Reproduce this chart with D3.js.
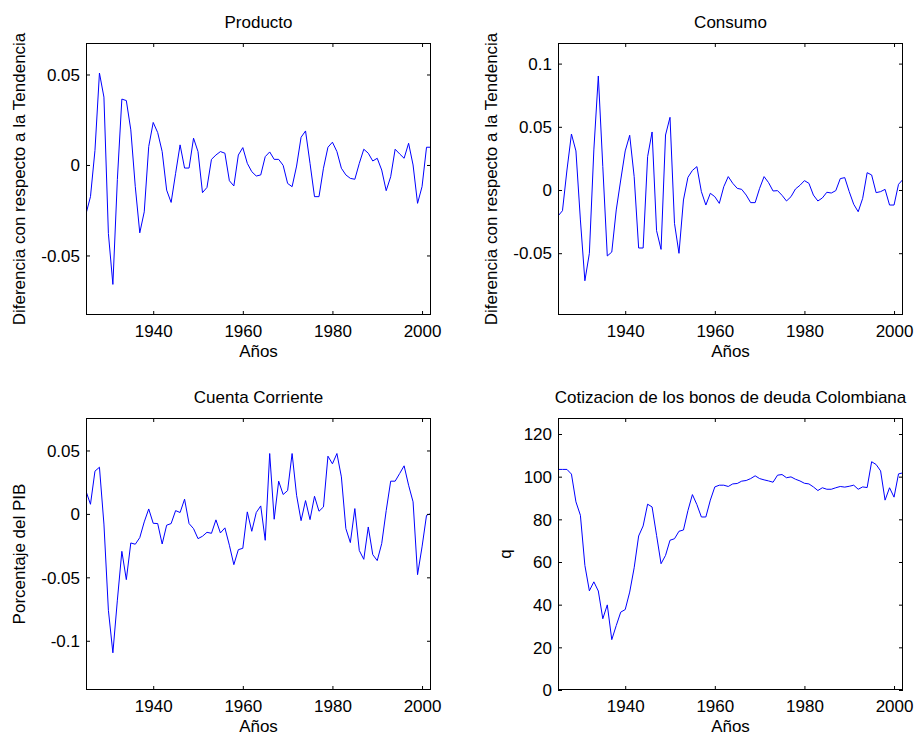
<!DOCTYPE html>
<html>
<head>
<meta charset="utf-8">
<script src="https://cdn.jsdelivr.net/npm/d3@7"></script>
<style>
  html, body { margin: 0; padding: 0; background: #fff; }
  svg { display: block; }
  text { font-family: "Liberation Sans", Arial, Helvetica, sans-serif; fill: #000; }
</style>
</head>
<body>
<svg id="chart" width="915" height="736"></svg>
<script>
// ---------------- DATA ----------------
const years = [1925,1926,1927,1928,1929,1930,1931,1932,1933,1934,1935,1936,1937,1938,1939,
  1940,1941,1942,1943,1944,1945,1946,1947,1948,1949,1950,1951,1952,1953,1954,1955,1956,1957,1958,1959,
  1960,1961,1962,1963,1964,1965,1966,1967,1968,1969,1970,1971,1972,1973,1974,1975,1976,1977,1978,1979,
  1980,1981,1982,1983,1984,1985,1986,1987,1988,1989,1990,1991,1992,1993,1994,1995,1996,1997,1998,1999,
  2000,2001,2002];

const producto = [-0.027,-0.0175,0.008,0.0508,0.0375,-0.0379,-0.066,-0.008,0.0364,0.0356,0.0194,-0.012,
  -0.0375,-0.0259,0.0102,0.0235,0.0179,0.0074,-0.0139,-0.0207,-0.0046,0.0111,-0.0017,-0.0017,0.0148,0.0074,
  -0.0153,-0.0124,0.0031,0.0055,0.0074,0.0065,-0.0087,-0.0116,0.0055,0.0096,0.0009,-0.0037,-0.0061,-0.0055,
  0.0046,0.0072,0.0031,0.0031,-0.0002,-0.0102,-0.012,-0.0006,0.0153,0.0188,0.0009,-0.0175,-0.0175,-0.0018,
  0.0098,0.0126,0.0074,-0.0018,-0.0055,-0.0074,-0.0079,0.0009,0.0087,0.0065,0.0022,0.0037,-0.0028,-0.0142,
  -0.0065,0.0087,0.0061,0.0037,0.012,0,-0.0212,-0.012,0.0098,0.0098];

const consumo = [-0.0206,-0.0164,0.0158,0.0443,0.0309,-0.0237,-0.0718,-0.0501,0.0317,0.0902,0.0185,-0.0522,
  -0.0491,-0.0158,0.0079,0.0309,0.0433,0.0106,-0.0459,-0.0459,0.0264,0.0459,-0.0322,-0.047,0.0435,0.0575,
  -0.0264,-0.0501,-0.0079,0.01,0.0155,0.0185,-0.0013,-0.0119,-0.0026,-0.0053,-0.0106,0.0026,0.0106,0.0053,
  0.0013,0.0005,-0.004,-0.01,-0.01,0.0013,0.0106,0.0058,-0.0008,-0.0005,-0.0042,-0.0087,-0.0053,0.0008,
  0.0037,0.0074,0.0053,-0.004,-0.0087,-0.0063,-0.0018,-0.0024,-0.0005,0.009,0.0098,-0.0013,-0.0113,-0.0172,
  -0.0066,0.0137,0.0119,-0.0021,-0.0013,0.0005,-0.0119,-0.0119,0.0045,0.0084];

const cuenta = [0.0179,0.0076,0.0337,0.0368,-0.008,-0.076,-0.1095,-0.068,-0.0295,-0.0518,-0.0229,-0.0239,
  -0.0187,-0.0063,0.0039,-0.0074,-0.0076,-0.0237,-0.0089,-0.0076,0.0026,0.0011,0.0116,-0.0076,-0.0116,-0.0195,
  -0.0176,-0.0145,-0.0153,-0.0047,-0.015,-0.011,-0.0247,-0.04,-0.0282,-0.0271,0.0016,-0.0137,0.0011,0.0063,
  -0.0208,0.0476,-0.0042,0.0258,0.0153,0.0184,0.0476,0.0147,-0.0053,0.0105,-0.0045,0.0139,0.0021,0.0055,
  0.0455,0.0395,0.0476,0.0292,-0.0116,-0.0226,0.0042,-0.0289,-0.0358,-0.0103,-0.0321,-0.0368,-0.0234,0.0026,
  0.0258,0.0258,0.0318,0.0379,0.0226,0.0095,-0.0479,-0.026,-0.0011,0.0003];

const cotizacion = [103.4,103.4,103.4,101.2,88.2,81.9,58.4,46.5,50.7,46.4,33.4,39.9,23.6,30.2,36.5,37.7,
  45.9,57.3,72.2,76.9,87.1,85.8,72.5,59.2,63.1,70.2,70.9,74.4,75.0,84.1,91.6,86.9,81.1,81.1,89.0,95.2,96.0,
  96.0,95.4,96.6,96.8,97.9,98.2,99.1,100.4,99.1,98.5,98.0,97.4,100.7,101.0,99.5,99.9,98.8,98.0,96.9,96.6,
  95.2,93.5,94.8,94.1,94.1,94.8,95.4,95.1,95.5,96.0,94.1,95.2,94.9,107.0,105.7,102.7,89.0,94.8,90.4,101.3,101.8];

const titles = ["Producto", "Consumo", "Cuenta Corriente", "Cotizacion de los bonos de deuda Colombiana"];
const yLabels = ["Diferencia con respecto a la Tendencia", "Diferencia con respecto a la Tendencia",
                 "Porcentaje del PIB", "q"];
const xLabel = "Años";

const xTicks = [1940, 1960, 1980, 2000];
const xDomain = [1925, 2002];

const yTicks1 = [-0.05, 0, 0.05];
const yTickLabels1 = ["-0.05", "0", "0.05"];
const yDomain1 = [-0.0829, 0.0674];

const yTicks2 = [-0.05, 0, 0.05, 0.1];
const yTickLabels2 = ["-0.05", "0", "0.05", "0.1"];
const yDomain2 = [-0.0989, 0.1163];

const yTicks3 = [-0.1, -0.05, 0, 0.05];
const yTickLabels3 = ["-0.1", "-0.05", "0", "0.05"];
const yDomain3 = [-0.1388, 0.0756];

const yTicks4 = [0, 20, 40, 60, 80, 100, 120];
const yTickLabels4 = ["0", "20", "40", "60", "80", "100", "120"];
const yDomain4 = [0, 127.5];

// ---------------- LAYOUT ----------------
const FONT = 17;
const TICK = 4;
const panels = [
  { l: 86,  t: 43,  r: 431, b: 315, values: producto,   yDom: yDomain1, yT: yTicks1, yTL: yTickLabels1, title: titles[0], ylab: yLabels[0], ylabX: 25 },
  { l: 558, t: 43,  r: 903, b: 315, values: consumo,    yDom: yDomain2, yT: yTicks2, yTL: yTickLabels2, title: titles[1], ylab: yLabels[1], ylabX: 497 },
  { l: 86,  t: 418, r: 431, b: 690, values: cuenta,     yDom: yDomain3, yT: yTicks3, yTL: yTickLabels3, title: titles[2], ylab: yLabels[2], ylabX: 25 },
  { l: 558, t: 418, r: 903, b: 690, values: cotizacion, yDom: yDomain4, yT: yTicks4, yTL: yTickLabels4, title: titles[3], ylab: yLabels[3], ylabX: 511 }
];

const svg = d3.select("#chart");

panels.forEach((p, idx) => {
  const x = d3.scaleLinear().domain(xDomain).range([p.l, p.r]);
  const y = d3.scaleLinear().domain(p.yDom).range([p.b, p.t]);
  const g = svg.append("g");

  const clipId = "clip" + idx;
  svg.append("clipPath").attr("id", clipId)
    .append("rect").attr("x", p.l).attr("y", p.t).attr("width", p.r - p.l).attr("height", p.b - p.t);

  const line = d3.line().x((d, i) => x(years[i])).y(d => y(d));
  g.append("path")
    .datum(p.values)
    .attr("clip-path", `url(#${clipId})`)
    .attr("fill", "none")
    .attr("stroke", "#0000ff")
    .attr("stroke-width", 1)
    .attr("stroke-linejoin", "miter")
    .attr("d", line);

  const fmtX = d3.format("d");
  const bottom = g.append("g").attr("transform", `translate(0,${p.b})`)
    .call(d3.axisBottom(x).tickValues(xTicks).tickSize(-TICK).tickPadding(0).tickFormat(fmtX));
  const top = g.append("g").attr("transform", `translate(0,${p.t})`)
    .call(d3.axisTop(x).tickValues(xTicks).tickSize(-TICK).tickFormat(""));
  const left = g.append("g").attr("transform", `translate(${p.l},0)`)
    .call(d3.axisLeft(y).tickValues(p.yT).tickSize(-TICK).tickPadding(0)
      .tickFormat((d, i) => p.yTL[i]));
  const right = g.append("g").attr("transform", `translate(${p.r},0)`)
    .call(d3.axisRight(y).tickValues(p.yT).tickSize(-TICK).tickFormat(""));

  [bottom, top, left, right].forEach(a => {
    a.select(".domain").remove();
    a.selectAll("line").attr("stroke", "#000").attr("stroke-width", 1);
  });

  bottom.selectAll("text")
    .attr("y", 0).attr("dy", null)
    .attr("transform", "translate(0,21.7)")
    .attr("font-size", FONT).attr("font-family", null).attr("fill", "#000");
  left.selectAll("text")
    .attr("x", -6).attr("dy", "0.34em")
    .attr("font-size", FONT).attr("font-family", null).attr("fill", "#000");
  [bottom, top, left, right].forEach(a => a.attr("font-family", null).attr("font-size", null));

  g.append("rect")
    .attr("x", p.l + 0.5).attr("y", p.t + 0.5)
    .attr("width", p.r - p.l - 1).attr("height", p.b - p.t - 1)
    .attr("fill", "none").attr("stroke", "#000").attr("stroke-width", 1);

  g.append("text")
    .attr("x", (p.l + p.r) / 2).attr("y", p.t - 15)
    .attr("text-anchor", "middle").attr("font-size", FONT)
    .text(p.title);

  g.append("text")
    .attr("x", (p.l + p.r) / 2).attr("y", p.b + 42)
    .attr("text-anchor", "middle").attr("font-size", FONT)
    .text(xLabel);

  g.append("text")
    .attr("transform", `translate(${p.ylabX},${(p.t + p.b) / 2}) rotate(-90)`)
    .attr("text-anchor", "middle").attr("font-size", FONT)
    .text(p.ylab);
});
</script>
</body>
</html>
